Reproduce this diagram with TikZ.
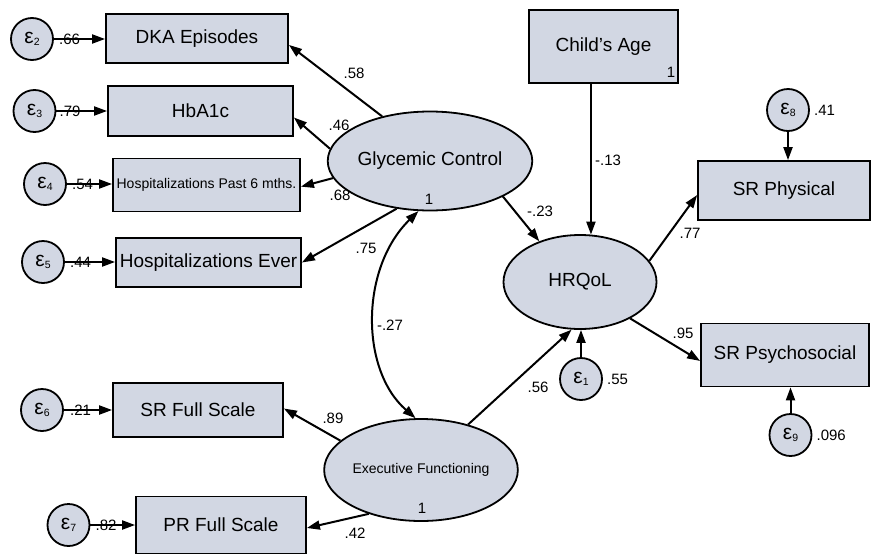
\documentclass[tikz,border=0pt]{standalone}
\usepackage{fontspec}
\setmainfont{Liberation Sans}
\usetikzlibrary{arrows.meta,shapes.geometric}
\definecolor{semfill}{HTML}{D2D7E3}
\newcommand{\errlab}[1]{{\fontsize{21}{21}\selectfont ε}\raisebox{-2pt}{\fontsize{10.5}{10.5}\selectfont #1}}
\begin{document}
\begin{tikzpicture}[x=1pt,y=-1pt,
  obs/.style={draw, fill=semfill, line width=1.8pt, inner sep=0pt, rectangle,
    font=\fontsize{19}{22}\selectfont},
  lat/.style={draw, fill=semfill, line width=1.8pt, inner sep=0pt, ellipse,
    font=\fontsize{19}{22}\selectfont},
  err/.style={draw, fill=semfill, line width=1.8pt, inner sep=0pt, circle,
    minimum size=42pt},
  lab/.style={inner sep=0pt, font=\fontsize{15}{16}\selectfont},
  arr/.style={line width=2pt, -{Triangle[length=13pt,width=9pt]}},
  arrboth/.style={line width=2pt, {Triangle[length=13pt,width=9pt]}-{Triangle[length=13pt,width=9pt]}}
]
\useasboundingbox (0,0) rectangle (874,557);

% observed indicators
\node[obs, minimum width=182pt, minimum height=49pt] (dka) at (197,38.5) {DKA Episodes};
\node[obs, minimum width=185pt, minimum height=50pt] (hba) at (200.5,111) {HbA1c};
\node[obs, minimum width=187pt, minimum height=53pt, font=\fontsize{14}{16}\selectfont] (h6) at (206.5,185) {Hospitalizations Past 6 mths.};
\node[obs, minimum width=185pt, minimum height=49pt] (hev) at (208.5,262.5) {Hospitalizations Ever};
\node[obs, minimum width=170pt, minimum height=54pt] (srfs) at (198,410) {SR Full Scale};
\node[obs, minimum width=170pt, minimum height=57pt] (prfs) at (221,525) {PR Full Scale};
\node[obs, minimum width=149pt, minimum height=73pt] (age) at (603.5,46.5) {Child\char"27 s Age};
\node[obs, minimum width=172pt, minimum height=59pt] (srp) at (784,190.5) {SR Physical};
\node[obs, minimum width=168pt, minimum height=63pt] (srps) at (785,355) {SR Psychosocial};

% latent variables
\node[lat, minimum width=161pt, minimum height=99pt] (gc) at (430,161) {Glycemic Control};
\node[lat, minimum width=153pt, minimum height=94pt] (hr) at (580,282) {HRQoL};
\node[lat, minimum width=165pt, minimum height=102pt, font=\fontsize{14}{16}\selectfont] (ef) at (421,470) {Executive Functioning};

% variance constraints
\node[lab] (gc1) at (429,199) {1};
\node[lab] (ef1) at (422,508) {1};
\node[lab] (age1) at (671,72) {1};

% error terms
\node[err] (e2) at (32,39) {\errlab{2}};
\node[err] (e3) at (34.5,111) {\errlab{3}};
\node[err] (e4) at (45,184) {\errlab{4}};
\node[err] (e5) at (43,262) {\errlab{5}};
\node[err] (e6) at (42,410) {\errlab{6}};
\node[err] (e7) at (68.5,525) {\errlab{7}};
\node[err] (e8) at (788,110) {\errlab{8}};
\node[err] (e1) at (581,379) {\errlab{1}};
\node[err] (e9) at (790.5,435) {\errlab{9}};

% error paths
\draw[arr] (e2) -- (e2 -| dka.west);
\draw[arr] (e3) -- (e3 -| hba.west);
\draw[arr] (e4) -- (e4 -| h6.west);
\draw[arr] (e5) -- (e5 -| hev.west);
\draw[arr] (e6) -- (e6 -| srfs.west);
\draw[arr] (e7) -- (e7 -| prfs.west);
\draw[arr] (e8) -- (e8 |- srp.north);
\draw[arr] (e9) -- (e9 |- srps.south);
\draw[arr] (e1) -- (e1 |- hr.south);

% loadings and structural paths
\draw[arr] (gc.137) -- (dka.-4);
\draw[arr] (gc.173) -- (hba.-4);
\draw[arr] (gc.190) -- (h6.-1);
\draw[arr] (gc.235) -- (hev.east);
\draw[arr] (gc.-26) -- (hr.135);
\draw[arr] (age.south -| hr.77) -- (hr.77);
\draw[arr] (hr.17) -- (srp.183);
\draw[arr] (hr.-36) -- (srps.184);
\draw[arr] (ef.44) -- (hr.260);
\draw[arr] (ef.160) -- (srfs.1);
\draw[arr] (ef.220) -- (prfs.-2);
\draw[arrboth] (gc.257) .. controls (360,268) and (360,370) .. (ef.96);

% error variances
\node[lab, anchor=west] (v2) at ([xshift=5pt]e2.east) {.66};
\node[lab, anchor=west] (v3) at ([xshift=3pt]e3.east) {.79};
\node[lab, anchor=west] (v4) at ([xshift=5pt]e4.east) {.54};
\node[lab, anchor=west] (v5) at ([xshift=5pt]e5.east) {.44};
\node[lab, anchor=west] (v6) at ([xshift=6pt]e6.east) {.21};
\node[lab, anchor=west] (v7) at ([xshift=5pt]e7.east) {.82};
\node[lab, anchor=west] (v8) at ([xshift=4pt]e8.east) {.41};
\node[lab, anchor=west] (v1) at ([xshift=4pt]e1.east) {.55};
\node[lab, anchor=west] (v9) at ([xshift=4pt]e9.east) {.096};

% path coefficients
\node[lab] (c58) at (354,73) {.58};
\node[lab] (c46) at (339,125) {.46};
\node[lab] (c68) at (340,195) {.68};
\node[lab] (c75) at (366,248) {.75};
\node[lab] (c23) at (540,211) {-.23};
\node[lab] (c13) at (608,160) {-.13};
\node[lab] (c77) at (690,233) {.77};
\node[lab] (c95) at (683,333) {.95};
\node[lab] (c56) at (538,387) {.56};
\node[lab] (c27) at (390,325) {-.27};
\node[lab] (c89) at (333,418) {.89};
\node[lab] (c42) at (355,533) {.42};
\end{tikzpicture}
\end{document}
